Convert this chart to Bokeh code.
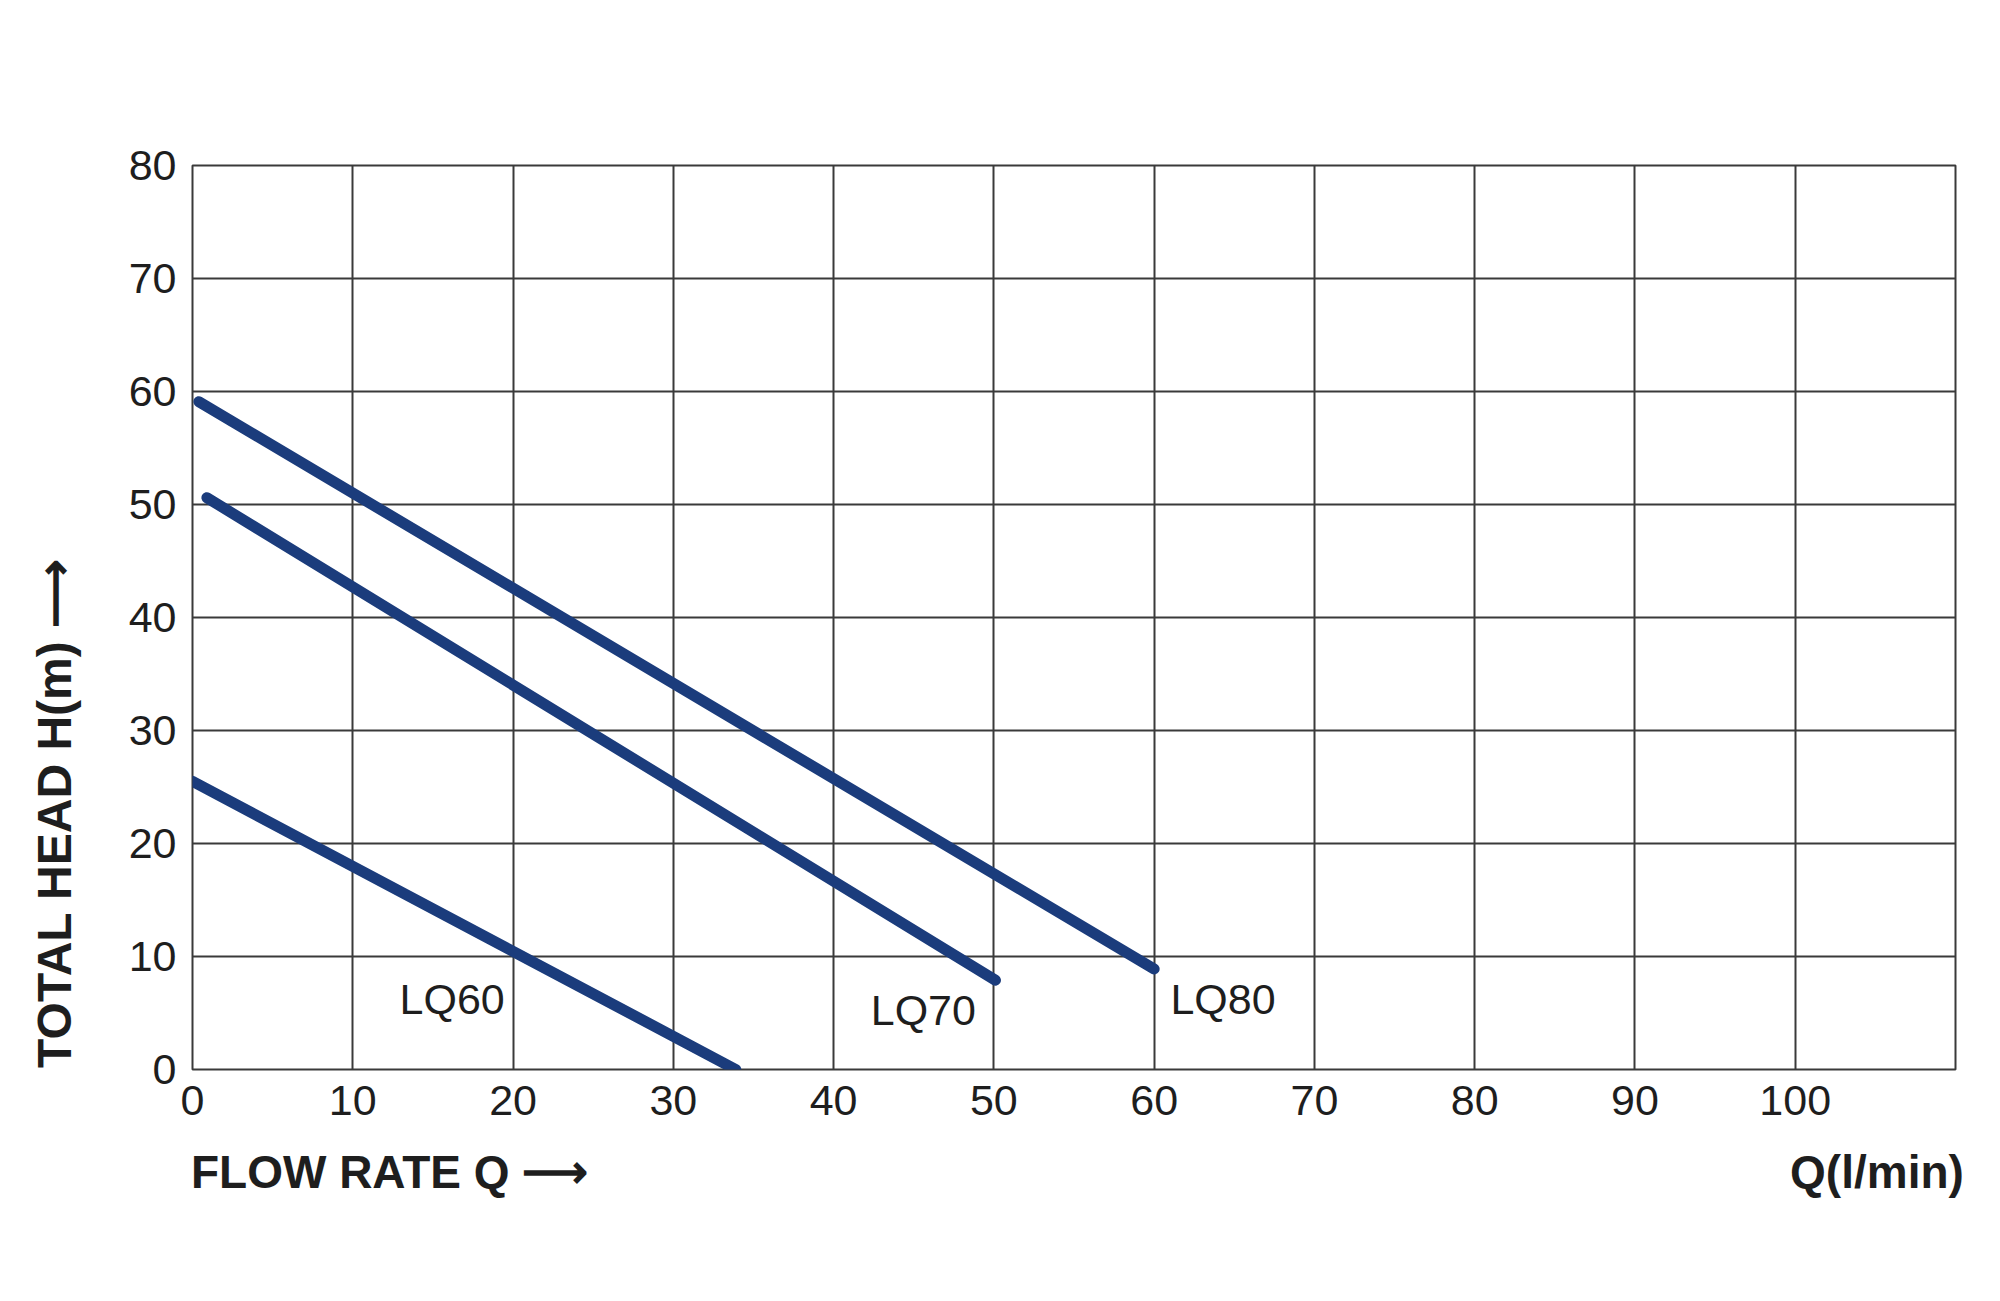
from bokeh.plotting import figure
from bokeh.models import FixedTicker, LinearAxis, ColumnDataSource
from bokeh.core.properties import value
from bokeh.embed import file_html
from bokeh.resources import INLINE

# ---- data ----
x_ticks = [0, 10, 20, 30, 40, 50, 60, 70, 80, 90, 100]
y_ticks = [0, 10, 20, 30, 40, 50, 60, 70, 80]

models = ["LQ60", "LQ70", "LQ80"]
lq60_q = [0.0, 33.9]
lq60_h = [25.5, 0.0]
lq70_q = [0.9, 50.1]
lq70_h = [50.6, 7.9]
lq80_q = [0.4, 60.0]
lq80_h = [59.1, 8.9]

label_q = [16.2, 45.6, 64.3]
label_h = [6.2, 5.3, 6.2]

x_title = "FLOW RATE Q \u27f6"
x_unit = "Q(l/min)"
y_title = "TOTAL HEAD H(m) \u27f6"

FONT = "Liberation Sans"
TXT = "#1e1e1e"
LINE = "#1b3c7c"
GRID = "#3a3a3a"

p = figure(width=2000, height=1301, output_backend="svg", toolbar_location=None,
           x_range=(0, 110), y_range=(0, 80))
p.min_border_left = 192
p.min_border_right = 45
p.min_border_top = 165
p.min_border_bottom = 232
p.background_fill_color = "white"
p.border_fill_color = "white"
p.outline_line_color = GRID
p.outline_line_width = 2


def style_axis(ax, size, bold=False):
    ax.axis_line_color = None
    ax.major_tick_line_color = None
    ax.minor_tick_line_color = None
    ax.major_label_text_font = FONT
    ax.major_label_text_font_size = size
    ax.major_label_text_color = TXT
    if bold:
        ax.major_label_text_font_style = "bold"


for ax in (p.xaxis[0], p.yaxis[0]):
    style_axis(ax, "43px")

p.xaxis.ticker = FixedTicker(ticks=x_ticks)
p.yaxis.ticker = FixedTicker(ticks=y_ticks)
p.xaxis.major_label_standoff = 10
p.yaxis.major_label_standoff = 10

# title axes (text placed through the axis machinery)
xt_axis = LinearAxis(ticker=FixedTicker(ticks=[12.3, 105.1]),
                     major_label_overrides={12.3: x_title, 105.1: x_unit})
style_axis(xt_axis, "46px", bold=True)
xt_axis.major_label_standoff = 22
p.add_layout(xt_axis, "below")

yt_axis = LinearAxis(ticker=FixedTicker(ticks=[22.7]),
                     major_label_overrides={22.7: y_title},
                     major_label_orientation="vertical")
style_axis(yt_axis, "48px", bold=True)
yt_axis.major_label_standoff = 38
p.add_layout(yt_axis, "left")

p.xgrid.ticker = FixedTicker(ticks=x_ticks + [110])
p.ygrid.ticker = FixedTicker(ticks=y_ticks)
for g in (p.xgrid[0], p.ygrid[0]):
    g.grid_line_color = GRID
    g.grid_line_width = 2
    g.grid_line_alpha = 1.0

for qs, hs in ((lq60_q, lq60_h), (lq70_q, lq70_h), (lq80_q, lq80_h)):
    p.line(qs, hs, line_color=LINE, line_width=11, line_cap="round")

src = ColumnDataSource(dict(x=label_q, y=label_h, t=models))
p.text(x="x", y="y", text="t", source=src, text_font=value(FONT),
       text_font_size="43px", text_color=TXT, text_align="center",
       text_baseline="middle")

open("out.html", "w").write(file_html(p, INLINE))
